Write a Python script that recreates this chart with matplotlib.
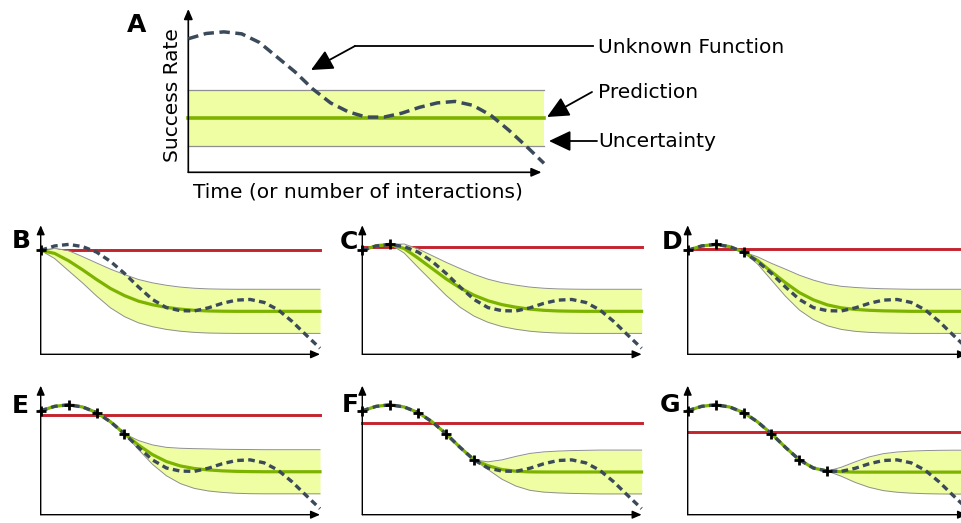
import matplotlib
matplotlib.use("Agg")
import matplotlib.pyplot as plt
import numpy as np

W, H = 962, 523

# sample positions along the time axis (0..10)
t_grid = [0, 0.5, 1, 1.5, 2, 2.5, 3, 3.5, 4, 4.5, 5,
          5.5, 6, 6.5, 7, 7.5, 8, 8.5, 9, 9.5, 10]

# unknown function, as drawn in panels B-G
unknown_fn = [0.806, 0.840, 0.852, 0.835, 0.792, 0.720, 0.627, 0.522, 0.425, 0.362, 0.338,
              0.336, 0.360, 0.395, 0.420, 0.425, 0.402, 0.345, 0.255, 0.150, 0.047]

# unknown function in panel A
unknown_fn_a = [0.818, 0.850, 0.860, 0.848, 0.795, 0.705, 0.615, 0.510, 0.425, 0.370, 0.338,
                0.338, 0.362, 0.398, 0.425, 0.434, 0.410, 0.350, 0.260, 0.160, 0.055]
a_mean = 0.333
a_halfwidth = 0.172

# observations (one more per panel)
obs_t = [0, 1, 2, 3, 4, 5]
obs_y = [0.806, 0.852, 0.792, 0.627, 0.425, 0.338]

panel_labels = ["B", "C", "D", "E", "F", "G"]
best_line = [0.806, 0.832, 0.815, 0.770, 0.708, 0.640]

mean_b = [0.806, 0.782, 0.725, 0.655, 0.580, 0.510, 0.455, 0.412, 0.384, 0.364, 0.350,
          0.341, 0.336, 0.334, 0.333, 0.333, 0.333, 0.333, 0.333, 0.333, 0.333]
hw_b = [0.000, 0.040, 0.078, 0.102, 0.128, 0.150, 0.163, 0.168, 0.170, 0.171, 0.171,
        0.171, 0.171, 0.171, 0.171, 0.171, 0.171, 0.171, 0.171, 0.171, 0.171]

mean_c = [0.806, 0.842, 0.852, 0.820, 0.745, 0.665, 0.585, 0.515, 0.458, 0.415, 0.385,
          0.365, 0.350, 0.341, 0.336, 0.334, 0.333, 0.333, 0.333, 0.333, 0.333]
hw_c = [0.000, 0.006, 0.000, 0.035, 0.072, 0.100, 0.128, 0.150, 0.162, 0.167, 0.170,
        0.171, 0.171, 0.171, 0.171, 0.171, 0.171, 0.171, 0.171, 0.171, 0.171]

mean_d = [0.806, 0.840, 0.852, 0.835, 0.792, 0.728, 0.640, 0.555, 0.478, 0.422, 0.383,
          0.360, 0.348, 0.341, 0.337, 0.335, 0.333, 0.333, 0.333, 0.333, 0.333]
hw_d = [0.000, 0.004, 0.000, 0.004, 0.000, 0.028, 0.065, 0.105, 0.135, 0.153, 0.162,
        0.167, 0.170, 0.171, 0.171, 0.171, 0.171, 0.171, 0.171, 0.171, 0.171]

mean_e = [0.806, 0.840, 0.852, 0.835, 0.792, 0.720, 0.627, 0.540, 0.466, 0.412, 0.378,
          0.358, 0.347, 0.340, 0.336, 0.334, 0.333, 0.333, 0.333, 0.333, 0.333]
hw_e = [0.000, 0.003, 0.000, 0.003, 0.000, 0.003, 0.000, 0.035, 0.075, 0.110, 0.137,
        0.154, 0.163, 0.167, 0.170, 0.171, 0.171, 0.171, 0.171, 0.171, 0.171]

mean_f = [0.806, 0.840, 0.852, 0.835, 0.792, 0.720, 0.627, 0.522, 0.425, 0.380, 0.350,
          0.337, 0.332, 0.331, 0.331, 0.331, 0.331, 0.331, 0.331, 0.331, 0.331]
hw_f = [0.000, 0.002, 0.000, 0.002, 0.000, 0.002, 0.000, 0.002, 0.000, 0.030, 0.075,
        0.115, 0.143, 0.156, 0.162, 0.166, 0.168, 0.170, 0.170, 0.170, 0.170]

mean_g = [0.806, 0.840, 0.852, 0.835, 0.792, 0.720, 0.627, 0.522, 0.425, 0.362, 0.338,
          0.333, 0.330, 0.330, 0.330, 0.330, 0.330, 0.330, 0.330, 0.330, 0.330]
hw_g = [0.000, 0.002, 0.000, 0.002, 0.000, 0.002, 0.000, 0.002, 0.000, 0.002, 0.000,
        0.035, 0.080, 0.118, 0.143, 0.156, 0.163, 0.167, 0.169, 0.170, 0.170]

panel_means = [mean_b, mean_c, mean_d, mean_e, mean_f, mean_g]
panel_hws = [hw_b, hw_c, hw_d, hw_e, hw_f, hw_g]

BAND = "#effea3"
EDGE = "#8f8f8f"
GREEN = "#7db300"
DASH = "#3b4a5a"
RED = "#c4232c"


def px_axes(fig, left, bottom, width, height):
    """Axes placed in pixel coordinates (y measured from the top)."""
    return fig.add_axes([left / W, 1 - bottom / H, width / W, height / H])


def axis_arrows(ax, xend=1.0, scale=10, hl=0.55, hw=0.24, lw=1.0):
    style = f"-|>,head_length={hl},head_width={hw}"
    for xy in [(xend, 0), (0, 1)]:
        ax.annotate("", xy=xy, xytext=(0, 0), xycoords="axes fraction",
                    arrowprops=dict(arrowstyle=style, color="black", lw=lw,
                                    mutation_scale=scale, shrinkA=0, shrinkB=0),
                    annotation_clip=False)


def main() -> None:
    fig = plt.figure(figsize=(W / 100, H / 100), dpi=100)

    # ---- panel A ----
    ax = px_axes(fig, 188.3, 172.3, 355.7, 163.3)
    ax.set_xlim(0, 10)
    ax.set_ylim(0, 1)
    ax.set_axis_off()
    ax.fill_between([0, 10], a_mean - a_halfwidth, a_mean + a_halfwidth,
                    color=BAND, lw=0, zorder=2)
    for yv in (a_mean - a_halfwidth, a_mean + a_halfwidth):
        ax.plot([0, 10], [yv, yv], color=EDGE, lw=0.9, zorder=2.5, clip_on=False)
    ax.plot([0, 10], [a_mean, a_mean], color=GREEN, lw=2.6, zorder=3, clip_on=False)
    ax.plot(t_grid, unknown_fn_a, color=DASH, lw=2.5, ls=(0, (3, 1.6)),
            zorder=4, clip_on=False)
    axis_arrows(ax, xend=0.993, scale=10, hl=0.6, hw=0.26, lw=1.2)

    # ---- panels B-G ----
    positions = [(40.7, 354.3), (362.3, 354.3), (687.7, 354.3),
                 (40.7, 514.7), (362.3, 514.7), (687.7, 514.7)]
    for i, (x0, yb) in enumerate(positions):
        ax = px_axes(fig, x0, yb, 279.3, 129)
        ax.set_xlim(0, 10)
        ax.set_ylim(0, 1)
        ax.set_axis_off()
        mean = np.array(panel_means[i])
        hw = np.array(panel_hws[i])
        ax.plot([0, 10], [best_line[i], best_line[i]], color=RED, lw=2.1,
                zorder=1, clip_on=False)
        ax.fill_between(t_grid, mean - hw, mean + hw, color=BAND, lw=0, zorder=2)
        ax.plot(t_grid, mean + hw, color=EDGE, lw=0.7, zorder=2.5, clip_on=False)
        ax.plot(t_grid, mean - hw, color=EDGE, lw=0.7, zorder=2.5, clip_on=False)
        ax.plot(t_grid, mean, color=GREEN, lw=2.3, zorder=3, clip_on=False,
                solid_joinstyle="round")
        ax.plot(t_grid, unknown_fn, color=DASH, lw=2.4, ls=(0, (2.0, 1.3)),
                zorder=4, clip_on=False)
        n = i + 1
        ax.plot(obs_t[:n], obs_y[:n], "+", color="black", ms=7, mew=2,
                zorder=5, clip_on=False)
        axis_arrows(ax)

    # ---- overlay for letters, labels and callouts (pixel coords) ----
    ov = fig.add_axes([0, 0, 1, 1], zorder=10)
    ov.set_xlim(0, W)
    ov.set_ylim(H, 0)
    ov.set_axis_off()
    ov.patch.set_alpha(0)

    letter_pos = [(127, 32), (12, 248), (340, 249), (662, 249),
                  (12, 413), (342, 412), (660, 412)]
    for lab, (x, y) in zip(["A"] + panel_labels, letter_pos):
        ov.text(x, y, lab, fontsize=18, fontweight="bold", ha="left", va="baseline")

    ov.text(173, 95.5, "Success Rate", fontsize=14.5, rotation=90,
            ha="center", va="center")
    ov.text(358.3, 197.5, "Time (or number of interactions)", fontsize=14.5,
            ha="center", va="baseline")

    ov.text(598, 53, "Unknown Function", fontsize=14.5, ha="left", va="baseline")
    ov.text(598, 98, "Prediction", fontsize=14.5, ha="left", va="baseline")
    ov.text(598, 147, "Uncertainty", fontsize=14.5, ha="left", va="baseline")

    head = "-|>,head_length=0.95,head_width=0.45"
    props = dict(arrowstyle=head, color="black", lw=1.3, mutation_scale=14,
                 shrinkA=0, shrinkB=0)
    ov.plot([593, 355], [46, 46], color="black", lw=1.3)
    ov.annotate("", xy=(311, 70), xytext=(355, 46), arrowprops=props)
    ov.annotate("", xy=(547, 117), xytext=(592, 92), arrowprops=props)
    ov.annotate("", xy=(549, 141), xytext=(597, 141), arrowprops=props)

    fig.savefig("out.png", dpi=100)
    plt.close(fig)


if __name__ == "__main__":
    main()
